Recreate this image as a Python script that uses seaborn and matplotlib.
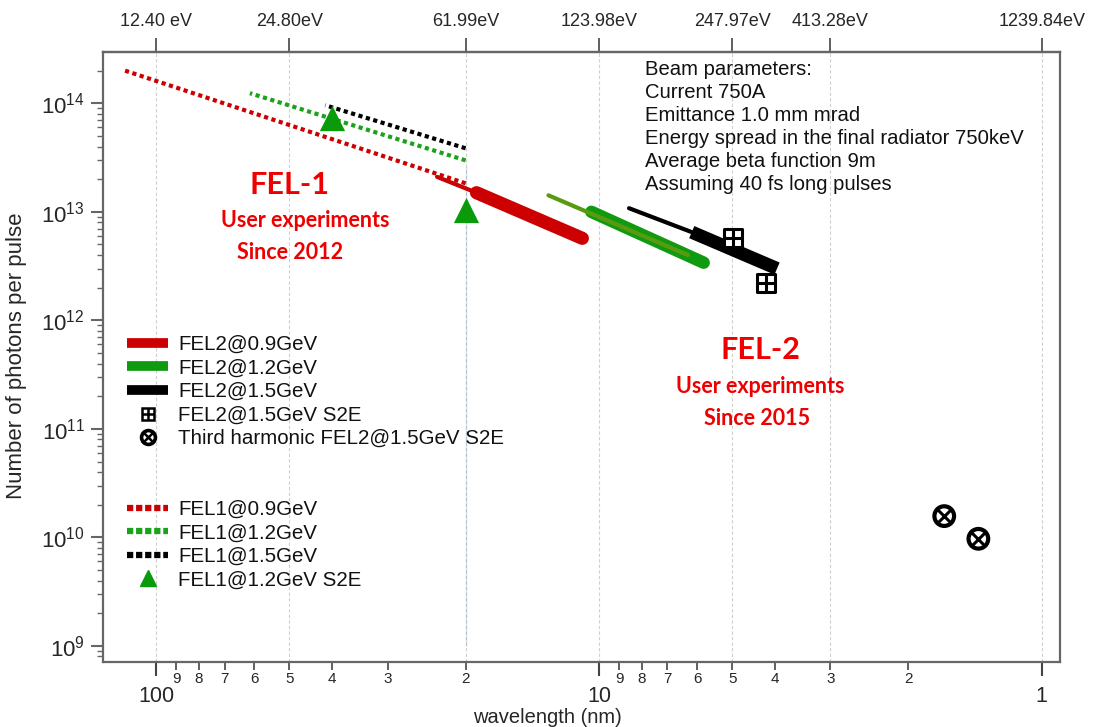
import matplotlib
matplotlib.use("Agg")
import matplotlib.pyplot as plt
import seaborn as sns
from matplotlib.lines import Line2D
from matplotlib.legend_handler import HandlerTuple
from matplotlib.ticker import FixedLocator, NullLocator, FuncFormatter, LogLocator

# ---------------- data: wavelength (nm) vs photons per pulse ----------------
# FEL-1 harmonic cascade curves (power laws, drawn between end points)
fel1_09_wl = [117.5, 20.0]
fel1_09_ph = [2.0e14, 1.83e13]
fel1_12_wl = [61.4, 20.0]
fel1_12_ph = [1.24e14, 2.98e13]
fel1_15_wl = [41.5, 20.0]
fel1_15_ph = [9.6e13, 3.85e13]
fel1_s2e_wl = [40.0, 20.0]
fel1_s2e_ph = [7.3e13, 1.05e13]

# FEL-2 curves: first (thin) stage and main (thick) stage
fel2_09_seed_wl = [23.2, 18.9]
fel2_09_seed_ph = [2.1e13, 1.5e13]
fel2_09_wl = [18.9, 10.9]
fel2_09_ph = [1.5e13, 5.7e12]
fel2_12_seed_wl = [13.0, 6.3]
fel2_12_seed_ph = [1.42e13, 4.0e12]
fel2_12_wl = [10.4, 5.8]
fel2_12_ph = [1.0e13, 3.4e12]
fel2_15_seed_wl = [8.55, 6.17]
fel2_15_seed_ph = [1.08e13, 6.5e12]
fel2_15_wl = [6.17, 3.96]
fel2_15_ph = [6.5e12, 3.0e12]
fel2_s2e_wl = [4.98, 4.2]
fel2_s2e_ph = [5.7e12, 2.2e12]
third_harm_wl = [1.66, 1.39]
third_harm_ph = [1.57e10, 9.7e9]

# boundary between FEL-1 and FEL-2 ranges
boundary_wl = [20.0, 20.0]
boundary_ph = [2.6e13, 1.0e9]

energy_tick_wl = [100, 50, 20, 10, 5, 3, 1]
energy_tick_labels = ["12.40 eV", "24.80eV", "61.99eV", "123.98eV",
                      "247.97eV", "413.28eV", "1239.84eV"]

beam_text = ("Beam parameters:\nCurrent 750A\nEmittance 1.0 mm mrad\n"
             "Energy spread in the final radiator 750keV\n"
             "Average beta function 9m\nAssuming 40 fs long pulses")

RED = "#cc0000"
GREEN = "#109a10"
OLIVE = "#5a9a10"
BLACK = "#000000"
BLUE = "#4a7ebb"
TXT_RED = "#ee0000"

sns.set_theme(style="white")
plt.rcParams["font.family"] = ["Liberation Sans", "DejaVu Sans"]
plt.rcParams["axes.unicode_minus"] = False

fig = plt.figure(figsize=(10.96, 7.27), dpi=100)
ax = fig.add_axes([0.094, 0.0894, 0.873, 0.8386])
ax.set(xscale="log", yscale="log")

# light vertical grid at the photon-energy ticks
for wl in energy_tick_wl:
    ax.axvline(wl, color="#d0d0d0", lw=0.8, ls=(0, (3, 2)), zorder=0)

dot = (0, (1, 0.85))
# FEL-1 dotted curves
sns.lineplot(x=fel1_09_wl, y=fel1_09_ph, ax=ax, color=RED, lw=3, ls=dot, zorder=2)
sns.lineplot(x=fel1_12_wl, y=fel1_12_ph, ax=ax, color="#1aa31a", lw=3, ls=dot, zorder=2)
sns.lineplot(x=fel1_15_wl, y=fel1_15_ph, ax=ax, color=BLACK, lw=3, ls=dot, zorder=2)

# FEL-2 curves
sns.lineplot(x=fel2_09_seed_wl, y=fel2_09_seed_ph, ax=ax, color=RED, lw=3, zorder=3)
sns.lineplot(x=fel2_09_wl, y=fel2_09_ph, ax=ax, color=RED, lw=9.5,
             solid_capstyle="round", zorder=3)
sns.lineplot(x=fel2_12_wl, y=fel2_12_ph, ax=ax, color=GREEN, lw=9,
             solid_capstyle="round", zorder=3)
sns.lineplot(x=fel2_12_seed_wl, y=fel2_12_seed_ph, ax=ax, color=OLIVE, lw=3, zorder=3)
sns.lineplot(x=fel2_15_seed_wl, y=fel2_15_seed_ph, ax=ax, color=BLACK, lw=3, zorder=3)
sns.lineplot(x=fel2_15_wl, y=fel2_15_ph, ax=ax, color=BLACK, lw=9.5,
             solid_capstyle="butt", zorder=3)

# FEL-1 start-to-end points
sns.scatterplot(x=fel1_s2e_wl, y=fel1_s2e_ph, ax=ax, marker="^", s=330,
                color="#0a9a0a", edgecolor="#0a9a0a", linewidth=0, zorder=4)
# FEL-2 start-to-end points (boxed plus)
sns.scatterplot(x=fel2_s2e_wl, y=fel2_s2e_ph, ax=ax, marker="s", s=170,
                facecolor="white", edgecolor=BLACK, linewidth=2.2, zorder=5)
sns.scatterplot(x=fel2_s2e_wl, y=fel2_s2e_ph, ax=ax, marker="+", s=170,
                color=BLACK, linewidth=2.2, zorder=6)
# third harmonic (circled cross)
sns.scatterplot(x=third_harm_wl, y=third_harm_ph, ax=ax, marker="o", s=200,
                facecolor="none", edgecolor=BLACK, linewidth=3, zorder=5)
sns.scatterplot(x=third_harm_wl, y=third_harm_ph, ax=ax, marker="x", s=95,
                color=BLACK, linewidth=2.2, zorder=6)

# FEL-1 / FEL-2 boundary
sns.lineplot(x=boundary_wl, y=boundary_ph, ax=ax, color=BLUE, lw=2.6,
             ls=(0, (4.8, 2.8)), zorder=7)

# ---------------- axes ----------------
ax.set_xlim(131.8, 0.91)
ax.set_ylim(7.1e8, 2.95e14)

for sp in ax.spines.values():
    sp.set_visible(True)
    sp.set_color("#666666")
    sp.set_linewidth(1.6)

ax.xaxis.set_major_locator(FixedLocator([100, 10, 1]))
ax.xaxis.set_major_formatter(FuncFormatter(lambda v, p: f"{v:g}"))
ax.xaxis.set_minor_locator(LogLocator(base=10, subs=range(2, 10)))
ax.xaxis.set_minor_formatter(
    FuncFormatter(lambda v, p: f"{v / 10 ** int(f'{v:e}'.split('e')[1]):.0f}"))
ax.tick_params(axis="x", which="major", direction="out", length=10, width=1.5,
               color="#444444", labelsize=15.5, pad=7, bottom=True)
ax.tick_params(axis="x", which="minor", direction="out", length=5.5, width=1.2,
               color="#444444", labelsize=11, pad=2, bottom=True)
ax.tick_params(axis="y", which="major", direction="out", length=9, width=1.5,
               color="#666666", labelsize=16, pad=4, left=True)
ax.tick_params(axis="y", which="minor", direction="out", length=4, width=1.0,
               color="#666666", left=True)
ax.yaxis.set_minor_locator(LogLocator(base=10, subs=range(2, 10), numticks=20))

ax.set_xlabel("wavelength (nm)", fontsize=14.5)
ax.xaxis.set_label_coords(0.464, -0.0755)
ax.set_ylabel("Number of photons per pulse", fontsize=16)
ax.yaxis.set_label_coords(-0.079, 0.503)

# photon energy scale on top
top = ax.secondary_xaxis("top")
top.xaxis.set_major_locator(FixedLocator(energy_tick_wl))
top.xaxis.set_minor_locator(NullLocator())
top.set_xticklabels(energy_tick_labels)
top.tick_params(axis="x", direction="out", length=10, width=1.2, color="#444444",
                labelsize=13, pad=6)
top.spines["top"].set_color("#666666")
top.spines["top"].set_linewidth(1.6)

# ---------------- annotations ----------------
ax.text(0.566, 0.988, beam_text, transform=ax.transAxes, ha="left", va="top",
        fontsize=14.6, linespacing=1.27, color="#111111")

def label(x, y, s, size):
    ax.text(x, y, s, transform=ax.transAxes, ha="center", va="center",
            fontsize=size, fontweight="bold", color=TXT_RED,
            family=["Lato", "DejaVu Sans"])

label(0.195, 0.782, "FEL-1", 22)
label(0.211, 0.725, "User experiments", 15.5)
label(0.195, 0.672, "Since 2012", 15.5)
label(0.687, 0.511, "FEL-2", 22)
label(0.687, 0.452, "User experiments", 15.5)
label(0.684, 0.400, "Since 2015", 15.5)

# ---------------- legend ----------------
def blank():
    return Line2D([], [], ls="none")

handles = [
    Line2D([], [], color=RED, lw=7, solid_capstyle="butt"),
    Line2D([], [], color=GREEN, lw=7, solid_capstyle="butt"),
    Line2D([], [], color=BLACK, lw=7, solid_capstyle="butt"),
    (Line2D([], [], ls="none", marker="s", ms=9, mfc="white", mec=BLACK, mew=1.8),
     Line2D([], [], ls="none", marker="+", ms=9, color=BLACK, mew=1.8)),
    (Line2D([], [], ls="none", marker="o", ms=10, mfc="none", mec=BLACK, mew=2.6),
     Line2D([], [], ls="none", marker="x", ms=6, color=BLACK, mew=1.8)),
    blank(), blank(),
    Line2D([], [], color=RED, lw=4.5, ls=(0, (1, 0.45))),
    Line2D([], [], color="#1aa31a", lw=4.5, ls=(0, (1, 0.45))),
    Line2D([], [], color=BLACK, lw=4.5, ls=(0, (1, 0.45))),
    Line2D([], [], ls="none", marker="^", ms=12, mfc="#0a9a0a", mec="#0a9a0a"),
]
labels = ["FEL2@0.9GeV", "FEL2@1.2GeV", "FEL2@1.5GeV", "FEL2@1.5GeV S2E",
          "Third harmonic FEL2@1.5GeV S2E", " ", " ",
          "FEL1@0.9GeV", "FEL1@1.2GeV", "FEL1@1.5GeV", "FEL1@1.2GeV S2E"]
leg = ax.legend(handles, labels, loc="upper left",
                bbox_to_anchor=(0.1159, 0.539), bbox_transform=fig.transFigure,
                frameon=False, fontsize=14.8, labelspacing=0.22, handlelength=2.0,
                handletextpad=0.5, borderpad=0, borderaxespad=0,
                handler_map={tuple: HandlerTuple(ndivide=1)})
for t in leg.get_texts():
    t.set_color("#111111")

fig.savefig("out.png", dpi=100)
